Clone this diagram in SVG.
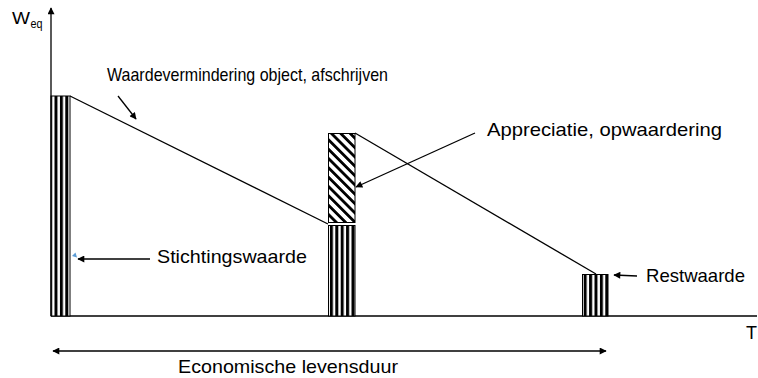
<svg xmlns="http://www.w3.org/2000/svg" width="758" height="378" viewBox="0 0 758 378">
<style>
text{font-family:"Liberation Sans",Arial,sans-serif;fill:#000;font-size:19px}
.ln{stroke:#000;stroke-width:1.3;fill:none}
.ar{stroke:#000;stroke-width:1.3;fill:none;marker-end:url(#ah)}
.bar{stroke:#000;stroke-width:1}
</style>
<defs>
<marker id="ah" viewBox="0 0 10 10" refX="9" refY="5" markerWidth="9" markerHeight="7" markerUnits="userSpaceOnUse" orient="auto-start-reverse">
<path d="M0,0 L10,5 L0,10 Z" fill="#000"/>
</marker>
<pattern id="vs" patternUnits="userSpaceOnUse" width="5.4" height="10" x="0.5" y="0">
<rect x="0" y="0" width="3" height="10" fill="#000"/>
</pattern>
<pattern id="hs" patternUnits="userSpaceOnUse" width="6.6" height="7" patternTransform="rotate(-45)">
<rect x="0" y="0" width="6.6" height="7" fill="#fff"/>
<rect x="0" y="0" width="2.8" height="7" fill="#000"/>
</pattern>
</defs>
<g id="connectors">
<line class="ln" x1="51" y1="316" x2="51" y2="8" style="marker-end:url(#ah)"/>
<line x1="51" y1="316" x2="757" y2="316" stroke="#000" stroke-width="1.6"/>
<line class="ln" x1="70" y1="96" x2="328" y2="224"/>
<line class="ln" x1="355" y1="133" x2="596" y2="274"/>
<line class="ar" x1="118" y1="96" x2="136" y2="119"/>
<line class="ar" x1="475" y1="133" x2="356" y2="187"/>
<line class="ar" x1="150" y1="259" x2="78" y2="259"/>
<line class="ar" x1="637" y1="276" x2="614" y2="275"/>
<line class="ln" x1="53" y1="351" x2="606" y2="351" style="marker-start:url(#ah);marker-end:url(#ah)"/>
</g>
<g id="left-bar">
<rect x="51" y="96" width="19" height="220" fill="#fff"/>
<rect class="bar" x="51" y="96" width="19" height="220" fill="url(#vs)"/>
</g>
<g id="middle-hatch">
<rect x="328.5" y="133.5" width="26.5" height="89" fill="url(#hs)" stroke="#000" stroke-width="1"/>
</g>
<g id="middle-bar">
<rect x="328.5" y="225.5" width="26.5" height="90.5" fill="#fff"/>
<rect class="bar" x="328.5" y="225.5" width="26.5" height="90.5" fill="url(#vs)"/>
</g>
<g id="right-bar">
<rect x="582.5" y="274.5" width="25.5" height="41.5" fill="#fff"/>
<rect class="bar" x="582.5" y="274.5" width="25.5" height="41.5" fill="url(#vs)"/>
</g>
<polygon points="72,256 75.5,252.5 77,257.5" fill="#5b9bd5"/>
<g id="labels">
<text x="12" y="24" style="font-size:17px" textLength="18" lengthAdjust="spacingAndGlyphs">W</text>
<text x="30.5" y="28" style="font-size:12px" textLength="12" lengthAdjust="spacingAndGlyphs">eq</text>
<text x="107" y="81" textLength="281" lengthAdjust="spacingAndGlyphs">Waardevermindering object, afschrijven</text>
<text x="487" y="136" textLength="235" lengthAdjust="spacingAndGlyphs">Appreciatie, opwaardering</text>
<text x="157" y="263" textLength="150" lengthAdjust="spacingAndGlyphs">Stichtingswaarde</text>
<text x="646" y="282" textLength="99" lengthAdjust="spacingAndGlyphs">Restwaarde</text>
<text x="746" y="339" style="font-size:18px">T</text>
<text x="178" y="373" textLength="220" lengthAdjust="spacingAndGlyphs">Economische levensduur</text>
</g>
</svg>
